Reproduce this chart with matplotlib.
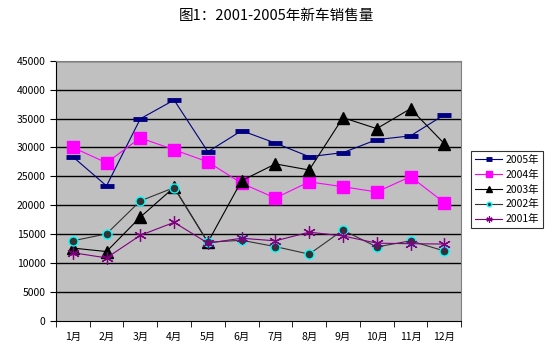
import numpy as np
import matplotlib
matplotlib.use("Agg")
import matplotlib.pyplot as plt

plt.rcParams['font.family'] = ['Noto Sans CJK SC', 'DejaVu Sans']

# 数据
months = ['1月', '2月', '3月', '4月', '5月', '6月', '7月', '8月', '9月', '10月', '11月', '12月']
s2005 = [28400, 23350, 34950, 38200, 29250, 32900, 30750, 28400, 29100, 31350, 32000, 35650]
s2004 = [30000, 27350, 31650, 29600, 27500, 23800, 21250, 24050, 23200, 22300, 24950, 20450]
s2003 = [12600, 12000, 17950, 23100, 13600, 24250, 27150, 26100, 35150, 33250, 36700, 30650]
s2002 = [13850, 15050, 20750, 23050, 13600, 13950, 12850, 11550, 15700, 12800, 13850, 12100]
s2001 = [11800, 10900, 14800, 17050, 13450, 14300, 13850, 15350, 14700, 13450, 13350, 13300]
yticks = np.arange(0, 45001, 5000)

fig = plt.figure(figsize=(5.53, 3.59), dpi=100)
ax = fig.add_axes([0.101, 0.106, 0.733, 0.725])
ax.set_facecolor('#C0C0C0')

x = np.arange(len(months))
ax.plot(x, s2005, color='#000080', lw=0.8, marker='_', ms=10, mew=3.5, label='2005年')
ax.plot(x, s2004, color='#FF00FF', lw=0.8, marker='s', ms=8, mec='#FF00FF', label='2004年')
ax.plot(x, s2003, color='black', lw=0.8, marker='^', ms=8, label='2003年')
ax.plot(x, s2002, color='#333333', lw=0.8, marker='o', ms=6.5, mfc='#333333', mec='#00FFFF', mew=1, label='2002年')
ax.plot(x, s2001, color='#800080', lw=0.8, marker=(6, 2, 0), ms=9, mew=0.9, label='2001年')

# 网格线
for v in yticks[1:]:
    ax.axhline(v, color='black', lw=1, zorder=0.5)

ax.set_xlim(-0.5, 11.5)
ax.set_ylim(0, 45000)
ax.set_yticks(yticks)
ax.set_yticklabels([str(v) for v in yticks], fontsize=7.5)
ax.set_xticks(x)
ax.set_xticklabels(months, fontsize=7.5)
ax.tick_params(axis='x', length=0, pad=8)
ax.set_xticks(np.arange(-0.5, 12, 1), minor=True)
ax.tick_params(axis='x', which='minor', length=4, direction='out')
ax.tick_params(axis='y', length=4, direction='out')

ax.spines['left'].set_color('black')
ax.spines['bottom'].set_color('black')
ax.spines['top'].set_color('#808080')
ax.spines['right'].set_color('#808080')

fig.suptitle('图1：2001-2005年新车销售量', fontsize=10.5, y=0.975)

leg = fig.legend(loc='center', bbox_to_anchor=(0.852, 0.359, 0.13, 0.226),
                 fontsize=7.5, frameon=True, fancybox=False, edgecolor='black',
                 handlelength=2.6, borderpad=0.4, labelspacing=0.45, handletextpad=0.3,
                 markerscale=0.5)
leg.get_frame().set_linewidth(0.8)

fig.savefig('out.png', dpi=100)
